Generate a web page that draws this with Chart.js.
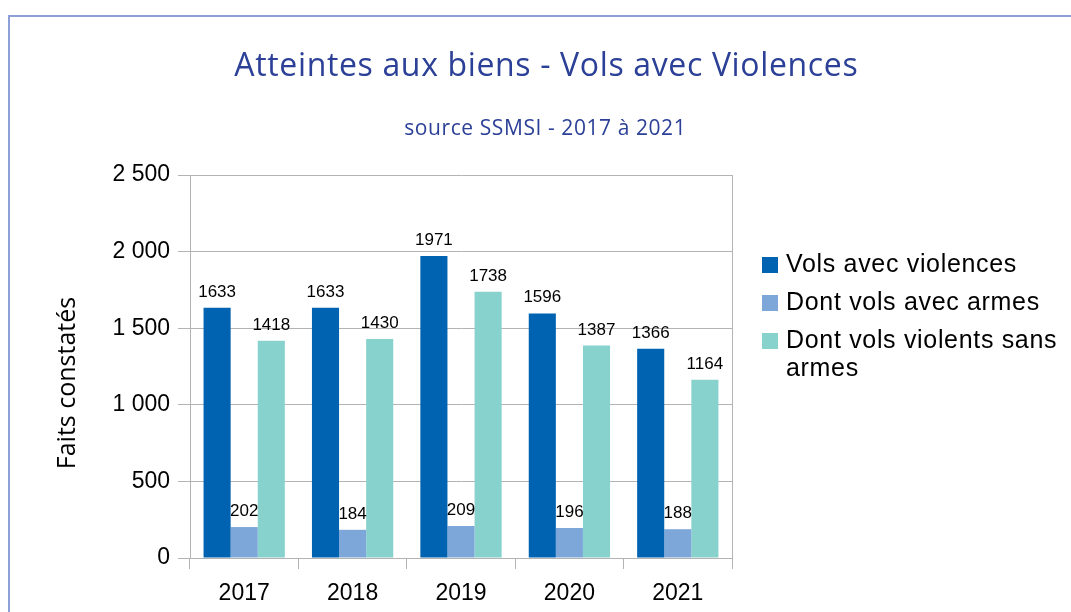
<!DOCTYPE html>
<html>
<head>
<meta charset="utf-8">
<script src="https://cdn.jsdelivr.net/npm/chart.js@4.4.0/dist/chart.umd.min.js"></script>
<style>
  body { margin: 0; background: #fff; }
  canvas { display: block; }
</style>
</head>
<body>
<canvas id="volsChart" width="1071" height="612"></canvas>
<script>
// données
const annees = ["2017", "2018", "2019", "2020", "2021"];
const volsViolences = [1633, 1633, 1971, 1596, 1366];
const volsArmes = [202, 184, 209, 196, 188];
const volsSansArmes = [1418, 1430, 1738, 1387, 1164];
const titre = "Atteintes aux biens - Vols avec Violences";
const sousTitre = "source SSMSI - 2017 à 2021";
const titreAxeY = "Faits constatés";

const couleurs = ["#0063b1", "#7ea7d9", "#88d2ce"];
const bleuTitre = "#2b4096";
const gris = "#b3b3b3";

function formatMilliers(v) {
    return String(v).replace(/\B(?=(\d{3})+(?!\d))/g, " ");
}

// espacement des lettres pour approcher la largeur de la police d'origine
function espacement(ctx, texte, largeur) {
    ctx.letterSpacing = "0px";
    const w = ctx.measureText(texte).width;
    return Math.max(0, (largeur - w) / texte.length);
}

// titre, étiquettes, légende et cadre dessinés à la main
const decorPlugin = {
    id: "decor",
    afterDraw(chart) {
        const ctx = chart.ctx;
        const area = chart.chartArea;
        ctx.save();

        // cadre extérieur
        ctx.strokeStyle = "#8da1d8";
        ctx.lineWidth = 2;
        ctx.beginPath();
        ctx.moveTo(9, 612);
        ctx.lineTo(9, 16);
        ctx.lineTo(1071, 16);
        ctx.stroke();

        // bord droit de la zone de tracé
        ctx.strokeStyle = gris;
        ctx.lineWidth = 1;
        ctx.beginPath();
        ctx.moveTo(Math.round(area.right) + 0.5, area.top);
        ctx.lineTo(Math.round(area.right) + 0.5, area.bottom);
        ctx.stroke();

        // titres
        ctx.fillStyle = bleuTitre;
        ctx.textAlign = "center";
        ctx.textBaseline = "middle";
        ctx.font = "32px 'Open Sans'";
        let sp = espacement(ctx, titre, 624);
        ctx.letterSpacing = sp + "px";
        ctx.fillText(titre, 546 + sp / 2, 67);
        ctx.font = "21px 'Open Sans'";
        sp = espacement(ctx, sousTitre, 282);
        ctx.letterSpacing = sp + "px";
        ctx.fillText(sousTitre, 545 + sp / 2, 129);
        ctx.letterSpacing = "0px";

        // titre axe Y
        ctx.fillStyle = "#000";
        ctx.save();
        ctx.translate(68, 383);
        ctx.rotate(-Math.PI / 2);
        ctx.font = "25px 'Open Sans'";
        ctx.fillText(titreAxeY, 0, 0);
        ctx.restore();

        // étiquettes des barres
        ctx.font = "17px 'Liberation Sans'";
        ctx.textBaseline = "alphabetic";
        chart.data.datasets.forEach((ds, i) => {
            chart.getDatasetMeta(i).data.forEach((bar, j) => {
                ctx.fillText(String(ds.data[j]), bar.x, bar.y - 11);
            });
        });

        // légende
        ctx.textAlign = "left";
        ctx.textBaseline = "middle";
        ctx.font = "25px 'Liberation Sans'";
        sp = espacement(ctx, chart.data.datasets[0].label, 231);
        ctx.letterSpacing = sp + "px";
        let y = 265;
        chart.data.datasets.forEach((ds) => {
            ctx.fillStyle = ds.backgroundColor;
            ctx.fillRect(762, y - 8, 16, 16);
            ctx.fillStyle = "#000";
            const mots = ds.label.split(" ");
            let ligne = "";
            const lignes = [];
            mots.forEach((m) => {
                const essai = ligne ? ligne + " " + m : m;
                if (ctx.measureText(essai).width > 285 && ligne) {
                    lignes.push(ligne);
                    ligne = m;
                } else {
                    ligne = essai;
                }
            });
            lignes.push(ligne);
            lignes.forEach((l, k) => {
                ctx.fillText(l, 786, y + k * 28);
            });
            y += 38 + (lignes.length - 1) * 28;
        });

        ctx.restore();
    }
};

const ctx = document.getElementById("volsChart").getContext("2d");
new Chart(ctx, {
    type: "bar",
    data: {
        labels: annees,
        datasets: [
            { label: "Vols avec violences", data: volsViolences, backgroundColor: couleurs[0] },
            { label: "Dont vols avec armes", data: volsArmes, backgroundColor: couleurs[1] },
            { label: "Dont vols violents sans armes", data: volsSansArmes, backgroundColor: couleurs[2] }
        ]
    },
    options: {
        responsive: false,
        animation: false,
        layout: { padding: { top: 175, right: 339, left: 0, bottom: 0 } },
        datasets: {
            bar: { categoryPercentage: 0.75, barPercentage: 1.0 }
        },
        plugins: {
            legend: { display: false },
            title: { display: false },
            tooltip: { enabled: false }
        },
        scales: {
            x: {
                afterFit: (scale) => { scale.height = 54; },
                grid: { drawOnChartArea: false, drawTicks: true, tickLength: 11, color: gris },
                border: { color: gris },
                ticks: { color: "#000", padding: 11, font: { family: "Liberation Sans", size: 23 } }
            },
            y: {
                min: 0,
                max: 2500,
                afterFit: (scale) => { scale.width = 190; },
                grid: { color: gris, tickLength: 12 },
                border: { color: gris },
                ticks: {
                    stepSize: 500,
                    color: "#000",
                    padding: 8,
                    font: { family: "Liberation Sans", size: 23 },
                    callback: (v) => formatMilliers(v)
                }
            }
        }
    },
    plugins: [decorPlugin]
});
</script>
</body>
</html>
